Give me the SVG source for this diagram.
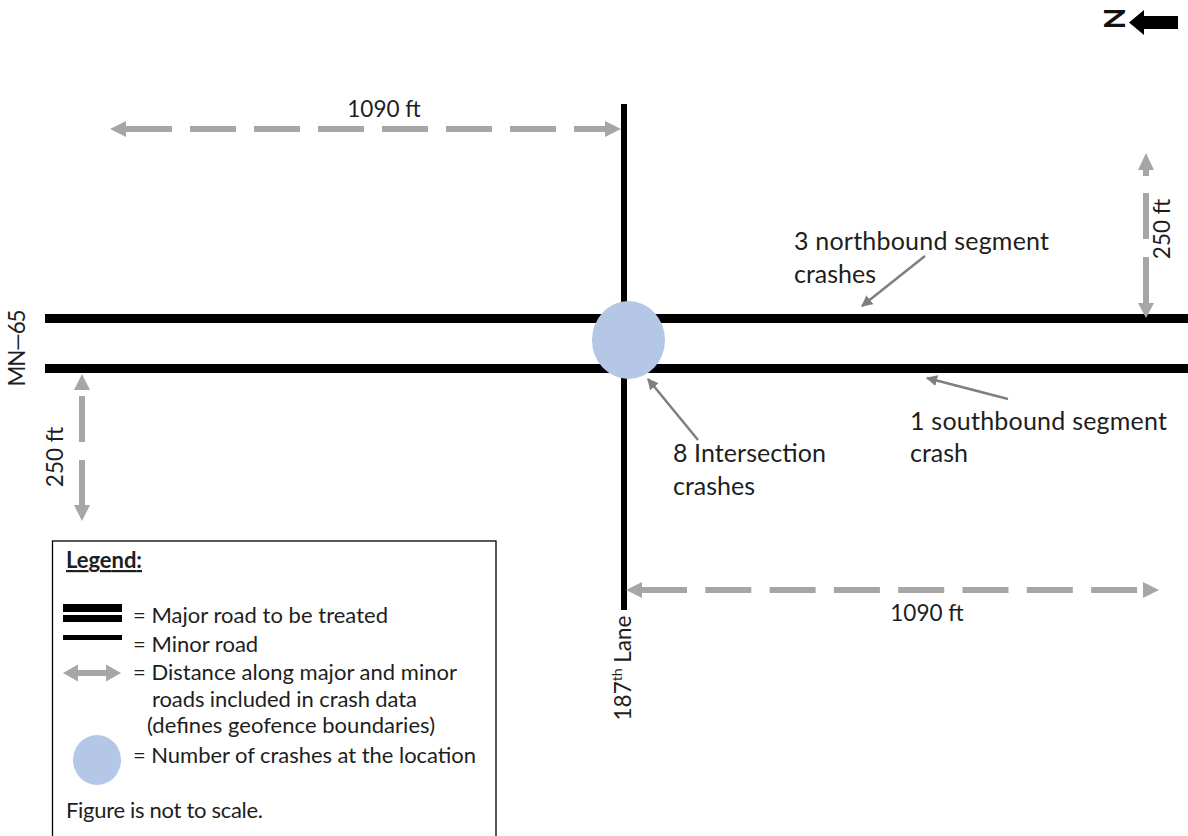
<svg xmlns="http://www.w3.org/2000/svg" width="1188" height="836" viewBox="0 0 1188 836">
<style>
text { font-family: Lato, "Liberation Sans", sans-serif; fill: #1e1e1e; }
.ann { font-size: 25px; }
.dim { font-size: 22.5px; }
.leg { font-size: 22px; }
.dash { stroke: #a6a6a6; stroke-width: 6; fill: none; stroke-dasharray: 46 18; }
.head { fill: #a6a6a6; }
.lead { stroke: #7f7f7f; stroke-width: 2.5; fill: none; marker-end: url(#tri); }
.road { fill: #000; }
</style>
<defs>
<marker id="tri" viewBox="0 0 10 10" refX="9" refY="5" markerWidth="4.5" markerHeight="4.5" orient="auto" markerUnits="strokeWidth"><path d="M0,0 L10,5 L0,10 z" fill="#7f7f7f"/></marker>
</defs>
<rect width="1188" height="836" fill="#fff"/>

<g id="roads">
<rect class="road" x="45" y="314" width="1143" height="9"/>
<rect class="road" x="45" y="364" width="1143" height="9"/>
<rect class="road" x="621" y="104" width="6" height="506"/>
</g>

<g id="intersection">
<ellipse cx="628.5" cy="340" rx="36.5" ry="39" fill="#b4c7e7"/>
</g>

<g id="connectors">
<line class="dash" x1="126" y1="129" x2="606" y2="129"/>
<polygon class="head" points="110,129 126,121 126,137"/>
<polygon class="head" points="621,129 605,121 605,137"/>

<line class="dash" x1="641" y1="590" x2="1143" y2="590" style="stroke-dasharray:46 18.3"/>
<polygon class="head" points="626,590 642,582 642,598"/>
<polygon class="head" points="1159,590 1143,582 1143,598"/>

<polygon class="head" points="1146,153 1138,170 1154,170"/>
<line x1="1146" y1="169" x2="1146" y2="176" stroke="#a6a6a6" stroke-width="6"/>
<line class="dash" x1="1146" y1="193" x2="1146" y2="303"/>
<polygon class="head" points="1146,318 1138,303 1154,303"/>

<polygon class="head" points="82,374 74,390 90,390"/>
<line class="dash" x1="82" y1="396" x2="82" y2="506"/>
<polygon class="head" points="82,521 74,505 90,505"/>

<line class="lead" x1="925" y1="256" x2="862" y2="306"/>
<line class="lead" x1="1008" y1="399" x2="927" y2="378"/>
<line class="lead" x1="698" y1="440" x2="648" y2="379"/>
</g>

<g id="labels">
<text class="dim" x="384" y="117" text-anchor="middle">1090 ft</text>
<text class="dim" x="927" y="621" text-anchor="middle">1090 ft</text>
<text class="dim" transform="translate(1170,229) rotate(-90)" text-anchor="middle">250 ft</text>
<text class="dim" transform="translate(63,457) rotate(-90)" text-anchor="middle">250 ft</text>
<text class="dim" transform="translate(25,348) rotate(-90)" text-anchor="middle" textLength="77">MN—65</text>
<text class="dim" transform="translate(631,668) rotate(-90)" text-anchor="middle">187<tspan font-size="14" dy="-9">th</tspan><tspan dy="9"> Lane</tspan></text>

<text class="ann" x="794" y="250" textLength="255">3 northbound segment</text>
<text class="ann" x="794" y="283">crashes</text>
<text class="ann" x="910" y="430" textLength="257">1 southbound segment</text>
<text class="ann" x="910" y="462">crash</text>
<text class="ann" x="673" y="462" textLength="153">8 Intersection</text>
<text class="ann" x="673" y="495">crashes</text>
</g>

<g id="north">
<polygon points="1129,22.5 1144,10 1144,16 1178,16 1178,29 1144,29 1144,35" fill="#000"/>
<text transform="translate(1125,18.5) rotate(-90)" text-anchor="middle" font-size="28" font-weight="bold" style="fill:#111">N</text>
</g>

<g id="legend">
<rect x="52.5" y="541" width="443.5" height="310" fill="#fff" stroke="#000" stroke-width="1.3"/>
<text class="leg" x="66" y="568" font-weight="bold" text-decoration="underline" textLength="76">Legend:</text>
<rect class="road" x="63" y="604" width="59" height="8"/>
<rect class="road" x="63" y="615" width="59" height="7"/>
<text class="leg" x="133" y="623" textLength="255">= Major road to be treated</text>
<rect class="road" x="63" y="635" width="59" height="5"/>
<text class="leg" x="133" y="652">= Minor road</text>
<line x1="77" y1="673" x2="107" y2="673" stroke="#a6a6a6" stroke-width="6"/>
<polygon class="head" points="63,673 78,664.5 78,681.5"/>
<polygon class="head" points="121,673 106,664.5 106,681.5"/>
<text class="leg" x="133" y="680" textLength="324">= Distance along major and minor</text>
<text class="leg" x="152" y="707" textLength="265">roads included in crash data</text>
<text class="leg" x="147" y="733" textLength="288">(defines geofence boundaries)</text>
<ellipse cx="97" cy="760" rx="24" ry="25" fill="#b4c7e7"/>
<text class="leg" x="133" y="763" textLength="343">= Number of crashes at the location</text>
<text class="leg" x="66" y="818" textLength="197">Figure is not to scale.</text>
</g>
</svg>
